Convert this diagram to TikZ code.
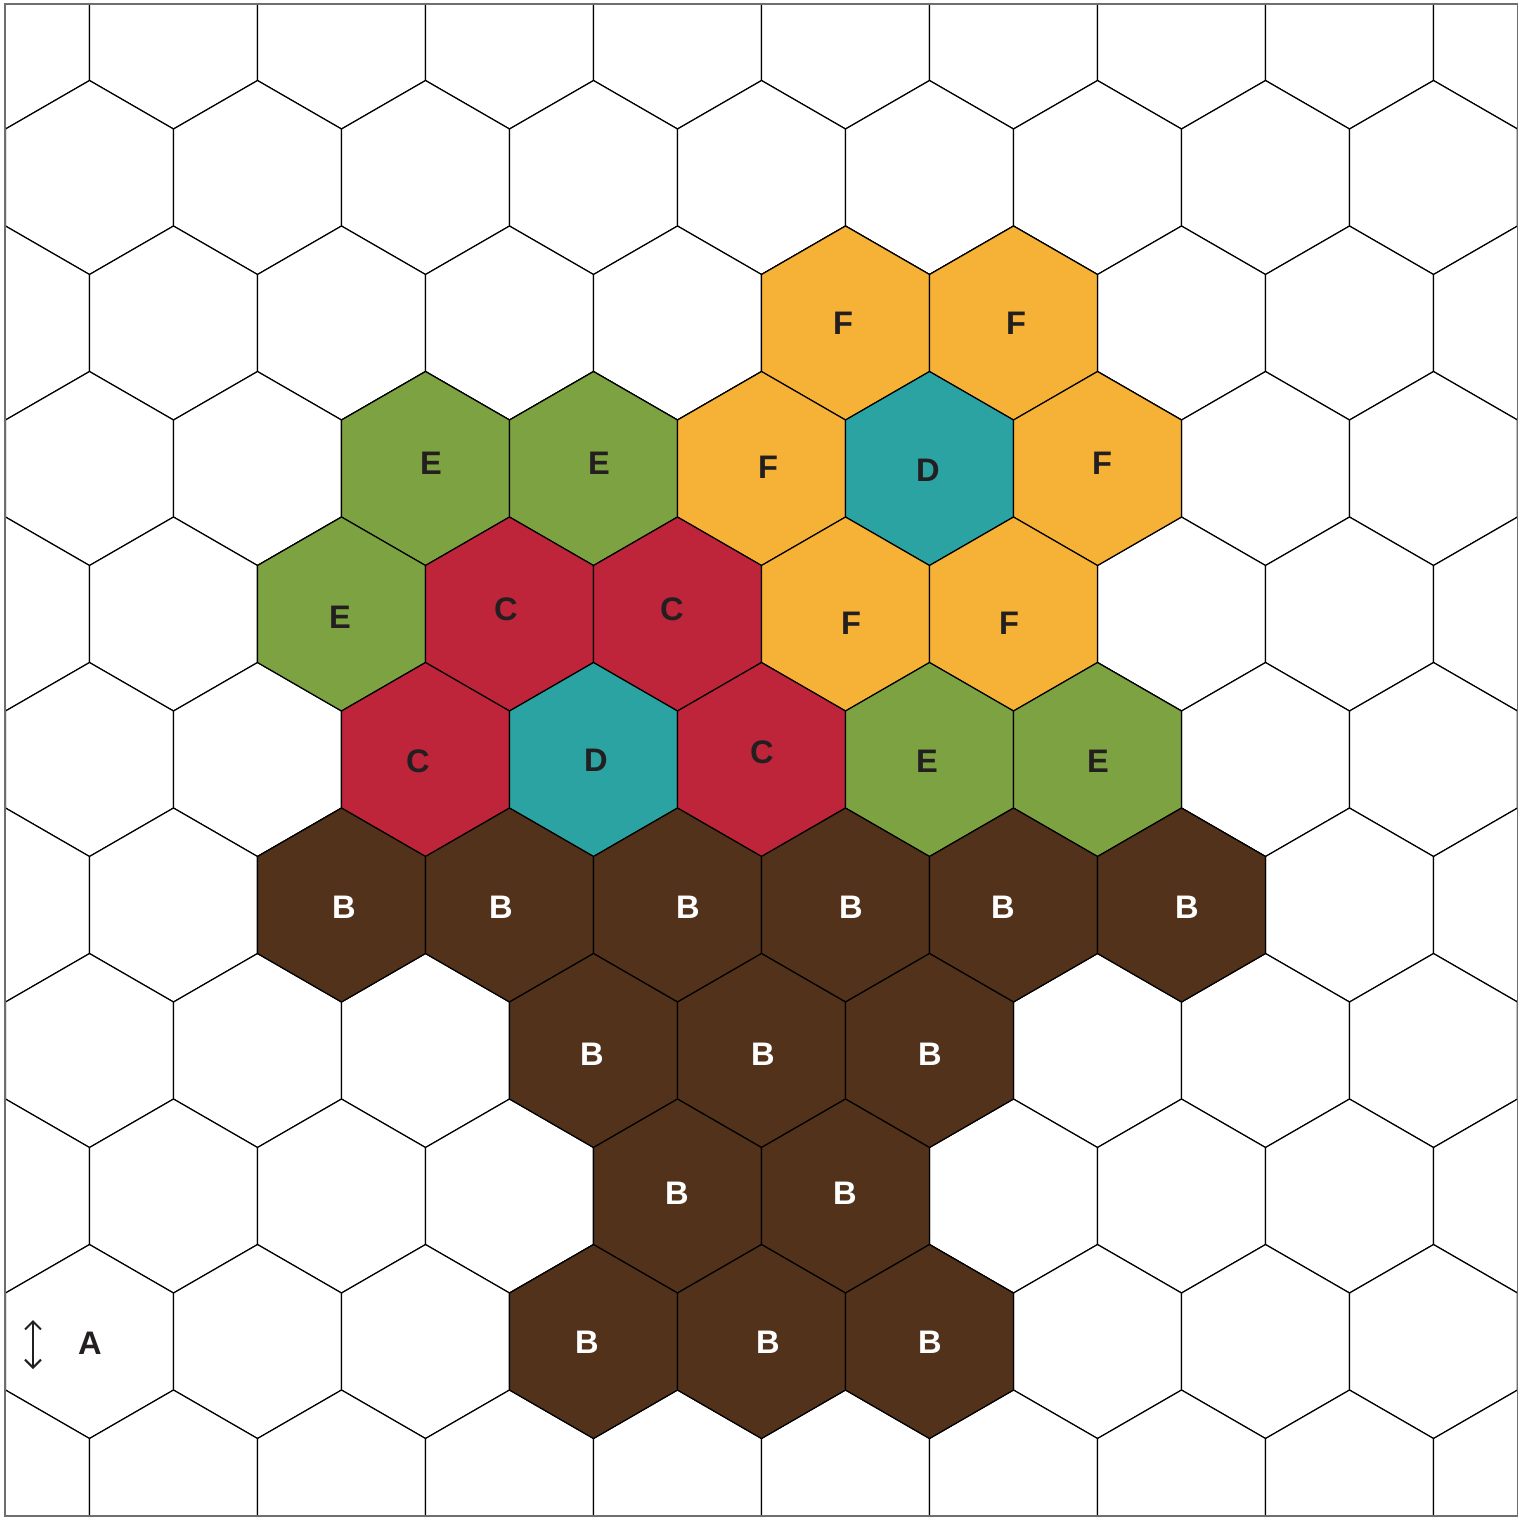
\documentclass[tikz,border=0pt]{standalone}
\usepackage{fontspec}
\setmainfont{Liberation Sans}
\usetikzlibrary{arrows.meta}
\definecolor{cF}{HTML}{F6B236}
\definecolor{cE}{HTML}{7DA241}
\definecolor{cC}{HTML}{BE253A}
\definecolor{cD}{HTML}{2BA3A3}
\definecolor{cB}{HTML}{52321A}
\definecolor{ink}{HTML}{231F20}
\definecolor{framec}{HTML}{6D6E70}
\newcommand\hexcell[3]{\draw[#3] (#1,#2) +(0,-97) -- +(84,-48.5) -- +(84,48.5) -- +(0,97) -- +(-84,48.5) -- +(-84,-48.5) -- cycle;}
\tikzset{
  gridcell/.style={draw=black, line width=0.6pt, fill=white},
  colcell/.style={draw=black, line width=0.6pt, fill=#1},
  lab/.style={text=ink, font=\fontsize{16.3}{19}\selectfont\bfseries, inner sep=0pt},
  labw/.style={lab, text=white},
}
\begin{document}
\begin{tikzpicture}[x=0.5pt,y=-0.5pt]
\useasboundingbox (0,0) rectangle (1525,1517);
\begin{scope}
\clip (5,4) rectangle (1517.5,1516);
\foreach \j in {0,...,10}{
  \foreach \k in {-1,...,9}{
    \pgfmathsetmacro\yy{32+145.5*\j}
    \pgfmathsetmacro\xx{mod(\j,2)==1 ? 89.5+168*\k : 5.5+168*\k}
    \hexcell{\xx}{\yy}{gridcell}
  }
}
% coloured cells
\foreach \x/\y/\c in {
  845.5/323/cF, 1013.5/323/cF,
  425.5/468.5/cE, 593.5/468.5/cE, 761.5/468.5/cF, 929.5/468.5/cD, 1097.5/468.5/cF,
  341.5/614/cE, 509.5/614/cC, 677.5/614/cC, 845.5/614/cF, 1013.5/614/cF,
  425.5/759.5/cC, 593.5/759.5/cD, 761.5/759.5/cC, 929.5/759.5/cE, 1097.5/759.5/cE,
  341.5/905/cB, 509.5/905/cB, 677.5/905/cB, 845.5/905/cB, 1013.5/905/cB, 1181.5/905/cB,
  593.5/1050.5/cB, 761.5/1050.5/cB, 929.5/1050.5/cB,
  677.5/1196/cB, 845.5/1196/cB,
  593.5/1341.5/cB, 761.5/1341.5/cB, 929.5/1341.5/cB}{
  \hexcell{\x}{\y}{colcell=\c}
}
\end{scope}
\draw[framec, line width=0.8pt] (5,4) rectangle (1517.5,1516);
% labels
\node[lab] (f1) at (843,323) {F};
\node[lab] (f2) at (1016,323) {F};
\node[lab] (e1) at (431,463) {E};
\node[lab] (e2) at (599,463) {E};
\node[lab] (f3) at (768,467) {F};
\node[lab] (d1) at (928,470) {D};
\node[lab] (f4) at (1102,463) {F};
\node[lab] (e3) at (340,617) {E};
\node[lab] (c1) at (506,609) {C};
\node[lab] (c2) at (672,609) {C};
\node[lab] (f5) at (851,623) {F};
\node[lab] (f6) at (1009,623) {F};
\node[lab] (c3) at (418,761) {C};
\node[lab] (d2) at (596,760) {D};
\node[lab] (c4) at (762,752) {C};
\node[lab] (e4) at (927,761) {E};
\node[lab] (e5) at (1098,761) {E};
\node[labw] (b1) at (344,907) {B};
\node[labw] (b2) at (501,907) {B};
\node[labw] (b3) at (688,907) {B};
\node[labw] (b4) at (851,907) {B};
\node[labw] (b5) at (1003,907) {B};
\node[labw] (b6) at (1187,907) {B};
\node[labw] (b7) at (592,1054) {B};
\node[labw] (b8) at (763,1054) {B};
\node[labw] (b9) at (930,1054) {B};
\node[labw] (b10) at (677,1193) {B};
\node[labw] (b11) at (845,1193) {B};
\node[labw] (b12) at (587,1342) {B};
\node[labw] (b13) at (768,1342) {B};
\node[labw] (b14) at (930,1342) {B};
% legend
\coordinate (arrtop) at (33,1320);
\coordinate (arrbot) at (33,1369);
\draw[ink, line width=1pt, {Straight Barb[length=4pt,width=8pt]}-{Straight Barb[length=4pt,width=8pt]}] (arrtop) -- (arrbot);
\node[lab] (legA) at (90,1343) {A};
\end{tikzpicture}
\end{document}
